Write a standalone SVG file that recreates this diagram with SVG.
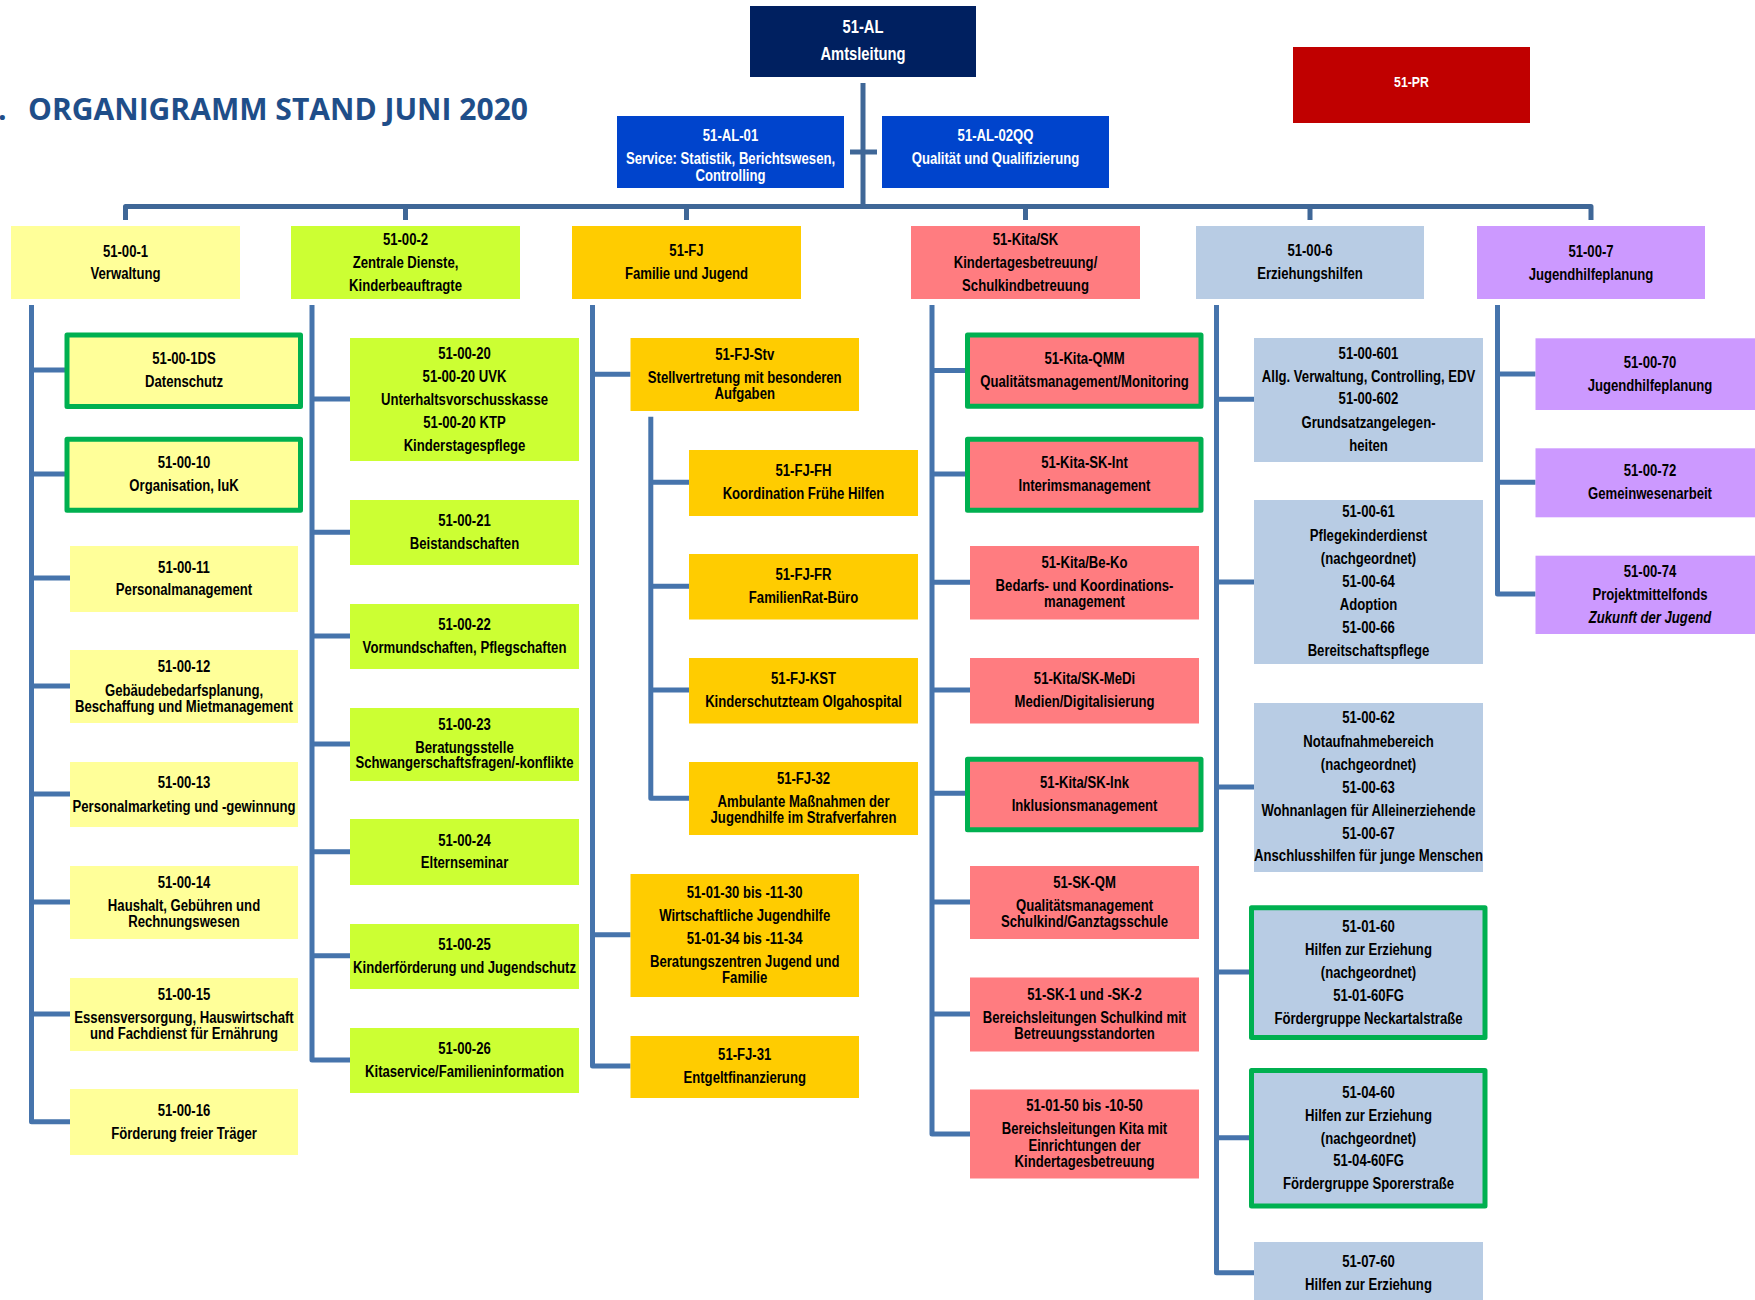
<svg xmlns="http://www.w3.org/2000/svg" width="1755" height="1300" viewBox="0 0 1755 1300">
<style>
  text { font-family: "Liberation Sans", Arial, sans-serif; font-weight: bold; font-size: 16px; text-anchor: middle; fill: #000; }
  .w text, text.w { fill: #fff; }
  .yl { fill: #FFFF99; }
  .lg { fill: #CCFF33; }
  .or { fill: #FFCC00; }
  .rd { fill: #FF7C80; }
  .bl { fill: #B8CCE4; }
  .vi { fill: #CC99FF; }
  .grn { stroke: #00B050; stroke-width: 5; stroke-linejoin: round; }
  .conn path { fill: none; stroke: #4674AC; stroke-width: 5; stroke-linejoin: round; }
  .conn path.bus { stroke: #3F6797; }
  .title { font-family: "Open Sans", "Liberation Sans", sans-serif; font-size: 30px; font-weight: bold; fill: #1F4E89; text-anchor: start; }
</style>
<rect x="0" y="0" width="1755" height="1300" fill="#fff"/>
<text class="title" x="-2" y="120">.</text>
<text class="title" x="28" y="120" textLength="500" lengthAdjust="spacingAndGlyphs">ORGANIGRAMM STAND JUNI 2020</text>

<g id="connectors" class="conn">
  <path class="bus" d="M863,83 V206.5"/>
  <path class="bus" d="M850,152 H877"/>
  <path class="bus" d="M125.5,220 V206.5 H1591 V220"/>
  <path class="bus" d="M405.5,206.5 V220 M686.5,206.5 V220 M1025.5,206.5 V220 M1310,206.5 V220"/>
  <!-- column 1 -->
  <path d="M31.5,305 V1121.7 H70 M31.5,370 H66 M31.5,474 H66 M31.5,578 H70 M31.5,686 H70 M31.5,794 H70 M31.5,902 H70 M31.5,1014 H70"/>
  <!-- column 2 -->
  <path d="M312,305 V1060 H350 M312,399 H350 M312,532.3 H350 M312,636 H350 M312,744 H350 M312,851.7 H350 M312,955.7 H350"/>
  <!-- column 3 -->
  <path d="M592.5,305 V1066 H630.5 M592.5,374.3 H630.5 M592.5,934.7 H630.5"/>
  <path d="M650.8,416.7 V798.3 H689 M650.8,482.3 H689 M650.8,586.3 H689 M650.8,690 H689"/>
  <!-- column 4 -->
  <path d="M932,305 V1134 H970 M932,370.5 H966 M932,474 H966 M932,582.3 H970 M932,690 H970 M932,793.3 H966 M932,902 H970 M932,1014 H970"/>
  <!-- column 5 -->
  <path d="M1216.5,305 V1272.7 H1254 M1216.5,399.3 H1254 M1216.5,582 H1254 M1216.5,787 H1254 M1216.5,972 H1250 M1216.5,1137.7 H1250"/>
  <!-- column 6 -->
  <path d="M1497.5,305 V594 H1535.5 M1497.5,374 H1535.5 M1497.5,482.3 H1535.5"/>
</g>

<!-- top -->
<g id="n-51-AL">
  <rect x="750" y="6" width="226" height="71" fill="#002060"/>
  <g class="w" transform="translate(863 0) scale(.82 1)"><text y="33.3" style="font-size:18px">51-AL</text><text y="60" style="font-size:18px">Amtsleitung</text></g>
</g>
<g id="n-51-AL-01">
  <rect x="617" y="116" width="227" height="72" fill="#0044CC"/>
  <g class="w" transform="translate(730.5 0) scale(.82 1)"><text y="140.7">51-AL-01</text><text y="164">Service: Statistik, Berichtswesen,</text><text y="180.7">Controlling</text></g>
</g>
<g id="n-51-AL-02QQ">
  <rect x="882" y="116" width="227" height="72" fill="#0044CC"/>
  <g class="w" transform="translate(995.5 0) scale(.82 1)"><text y="140.7">51-AL-02QQ</text><text y="164">Qualität und Qualifizierung</text></g>
</g>
<g id="n-51-PR">
  <rect x="1293" y="47" width="237" height="76" fill="#C00000"/>
  <g class="w" transform="translate(1411.5 0) scale(.82 1)"><text y="87.3" style="font-size:15px">51-PR</text></g>
</g>

<!-- level 2 -->
<g id="n-51-00-1"><rect class="yl" x="11" y="226" width="229" height="73"/>
  <g transform="translate(125.5 0) scale(.82 1)"><text y="256.7">51-00-1</text><text y="279.3">Verwaltung</text></g></g>
<g id="n-51-00-2"><rect class="lg" x="291" y="226" width="229" height="73"/>
  <g transform="translate(405.5 0) scale(.82 1)"><text y="245">51-00-2</text><text y="267.7">Zentrale Dienste,</text><text y="290.7">Kinderbeauftragte</text></g></g>
<g id="n-51-FJ"><rect class="or" x="572" y="226" width="229" height="73"/>
  <g transform="translate(686.5 0) scale(.82 1)"><text y="256">51-FJ</text><text y="278.7">Familie und Jugend</text></g></g>
<g id="n-51-Kita-SK"><rect class="rd" x="911" y="226" width="229" height="73"/>
  <g transform="translate(1025.5 0) scale(.82 1)"><text y="245">51-Kita/SK</text><text y="267.7">Kindertagesbetreuung/</text><text y="290.7">Schulkindbetreuung</text></g></g>
<g id="n-51-00-6"><rect class="bl" x="1196" y="226" width="228" height="73"/>
  <g transform="translate(1310 0) scale(.82 1)"><text y="256">51-00-6</text><text y="278.7">Erziehungshilfen</text></g></g>
<g id="n-51-00-7"><rect class="vi" x="1477" y="226" width="228" height="73"/>
  <g transform="translate(1591 0) scale(.82 1)"><text y="256.7">51-00-7</text><text y="280">Jugendhilfeplanung</text></g></g>

<!-- column 1 -->
<g id="n-51-00-1DS"><rect class="yl grn" x="67" y="335" width="233.5" height="71.5"/>
  <g transform="translate(184 0) scale(.82 1)"><text y="364.3">51-00-1DS</text><text y="387">Datenschutz</text></g></g>
<g id="n-51-00-10"><rect class="yl grn" x="67" y="439.2" width="233.5" height="71"/>
  <g transform="translate(184 0) scale(.82 1)"><text y="468.3">51-00-10</text><text y="491">Organisation, IuK</text></g></g>
<g id="n-51-00-11"><rect class="yl" x="70" y="546" width="228" height="66"/>
  <g transform="translate(184 0) scale(.82 1)"><text y="572.7">51-00-11</text><text y="595.3">Personalmanagement</text></g></g>
<g id="n-51-00-12"><rect class="yl" x="70" y="650" width="228" height="73"/>
  <g transform="translate(184 0) scale(.82 1)"><text y="672.3">51-00-12</text><text y="695.7">Gebäudebedarfsplanung,</text><text y="711.7">Beschaffung und Mietmanagement</text></g></g>
<g id="n-51-00-13"><rect class="yl" x="70" y="762" width="228" height="65"/>
  <g transform="translate(184 0) scale(.82 1)"><text y="788.3">51-00-13</text><text y="811.7">Personalmarketing und -gewinnung</text></g></g>
<g id="n-51-00-14"><rect class="yl" x="70" y="866" width="228" height="73"/>
  <g transform="translate(184 0) scale(.82 1)"><text y="888.3">51-00-14</text><text y="911">Haushalt, Gebühren und</text><text y="926.7">Rechnungswesen</text></g></g>
<g id="n-51-00-15"><rect class="yl" x="70" y="978" width="228" height="73"/>
  <g transform="translate(184 0) scale(.82 1)"><text y="1000">51-00-15</text><text y="1023.3">Essensversorgung, Hauswirtschaft</text><text y="1039">und Fachdienst für Ernährung</text></g></g>
<g id="n-51-00-16"><rect class="yl" x="70" y="1089" width="228" height="66"/>
  <g transform="translate(184 0) scale(.82 1)"><text y="1116">51-00-16</text><text y="1138.7">Förderung freier Träger</text></g></g>

<!-- column 2 -->
<g id="n-51-00-20"><rect class="lg" x="350" y="338" width="229" height="123"/>
  <g transform="translate(464.5 0) scale(.82 1)"><text y="359">51-00-20</text><text y="382">51-00-20 UVK</text><text y="404.7">Unterhaltsvorschusskasse</text><text y="427.7">51-00-20 KTP</text><text y="450.7">Kinderstagespflege</text></g></g>
<g id="n-51-00-21"><rect class="lg" x="350" y="500" width="229" height="65"/>
  <g transform="translate(464.5 0) scale(.82 1)"><text y="526">51-00-21</text><text y="549.3">Beistandschaften</text></g></g>
<g id="n-51-00-22"><rect class="lg" x="350" y="604" width="229" height="65"/>
  <g transform="translate(464.5 0) scale(.82 1)"><text y="630">51-00-22</text><text y="652.7">Vormundschaften, Pflegschaften</text></g></g>
<g id="n-51-00-23"><rect class="lg" x="350" y="708" width="229" height="73"/>
  <g transform="translate(464.5 0) scale(.82 1)"><text y="730">51-00-23</text><text y="752.7">Beratungsstelle</text><text y="768.3">Schwangerschaftsfragen/-konflikte</text></g></g>
<g id="n-51-00-24"><rect class="lg" x="350" y="819" width="229" height="66"/>
  <g transform="translate(464.5 0) scale(.82 1)"><text y="845.7">51-00-24</text><text y="868.3">Elternseminar</text></g></g>
<g id="n-51-00-25"><rect class="lg" x="350" y="924" width="229" height="65"/>
  <g transform="translate(464.5 0) scale(.82 1)"><text y="949.7">51-00-25</text><text y="972.7">Kinderförderung und Jugendschutz</text></g></g>
<g id="n-51-00-26"><rect class="lg" x="350" y="1028" width="229" height="65"/>
  <g transform="translate(464.5 0) scale(.82 1)"><text y="1054">51-00-26</text><text y="1076.7">Kitaservice/Familieninformation</text></g></g>

<!-- column 3 -->
<g id="n-51-FJ-Stv"><rect class="or" x="630.5" y="338" width="228.5" height="73"/>
  <g transform="translate(744.7 0) scale(.82 1)"><text y="360">51-FJ-Stv</text><text y="383.3">Stellvertretung mit besonderen</text><text y="399">Aufgaben</text></g></g>
<g id="n-51-FJ-FH"><rect class="or" x="689" y="450" width="229" height="66"/>
  <g transform="translate(803.5 0) scale(.82 1)"><text y="476">51-FJ-FH</text><text y="499">Koordination Frühe Hilfen</text></g></g>
<g id="n-51-FJ-FR"><rect class="or" x="689" y="554" width="229" height="65.5"/>
  <g transform="translate(803.5 0) scale(.82 1)"><text y="580">51-FJ-FR</text><text y="603">FamilienRat-Büro</text></g></g>
<g id="n-51-FJ-KST"><rect class="or" x="689" y="658" width="229" height="65.5"/>
  <g transform="translate(803.5 0) scale(.82 1)"><text y="684">51-FJ-KST</text><text y="707">Kinderschutzteam Olgahospital</text></g></g>
<g id="n-51-FJ-32"><rect class="or" x="689" y="762" width="229" height="73"/>
  <g transform="translate(803.5 0) scale(.82 1)"><text y="784">51-FJ-32</text><text y="806.7">Ambulante Maßnahmen der</text><text y="822.7">Jugendhilfe im Strafverfahren</text></g></g>
<g id="n-51-01-30"><rect class="or" x="630.5" y="874" width="228.5" height="123"/>
  <g transform="translate(744.7 0) scale(.82 1)"><text y="898">51-01-30 bis -11-30</text><text y="921">Wirtschaftliche Jugendhilfe</text><text y="944">51-01-34 bis -11-34</text><text y="967">Beratungszentren Jugend und</text><text y="982.7">Familie</text></g></g>
<g id="n-51-FJ-31"><rect class="or" x="630.5" y="1036" width="228.5" height="62"/>
  <g transform="translate(744.7 0) scale(.82 1)"><text y="1060">51-FJ-31</text><text y="1083">Entgeltfinanzierung</text></g></g>

<!-- column 4 -->
<g id="n-51-Kita-QMM"><rect class="rd grn" x="967.5" y="335" width="233.5" height="71.3"/>
  <g transform="translate(1084.5 0) scale(.82 1)"><text y="364.3">51-Kita-QMM</text><text y="387.3">Qualitätsmanagement/Monitoring</text></g></g>
<g id="n-51-Kita-SK-Int"><rect class="rd grn" x="967.5" y="439.2" width="233.5" height="71"/>
  <g transform="translate(1084.5 0) scale(.82 1)"><text y="468.3">51-Kita-SK-Int</text><text y="491">Interimsmanagement</text></g></g>
<g id="n-51-Kita-Be-Ko"><rect class="rd" x="970" y="546" width="229" height="73.5"/>
  <g transform="translate(1084.5 0) scale(.82 1)"><text y="568.3">51-Kita/Be-Ko</text><text y="591">Bedarfs- und Koordinations-</text><text y="607">management</text></g></g>
<g id="n-51-Kita-SK-MeDi"><rect class="rd" x="970" y="658" width="229" height="65.5"/>
  <g transform="translate(1084.5 0) scale(.82 1)"><text y="684">51-Kita/SK-MeDi</text><text y="707.3">Medien/Digitalisierung</text></g></g>
<g id="n-51-Kita-SK-Ink"><rect class="rd grn" x="967.5" y="759.2" width="233.5" height="70.6"/>
  <g transform="translate(1084.5 0) scale(.82 1)"><text y="788.3">51-Kita/SK-Ink</text><text y="810.7">Inklusionsmanagement</text></g></g>
<g id="n-51-SK-QM"><rect class="rd" x="970" y="866" width="229" height="73"/>
  <g transform="translate(1084.5 0) scale(.82 1)"><text y="887.7">51-SK-QM</text><text y="911">Qualitätsmanagement</text><text y="926.7">Schulkind/Ganztagsschule</text></g></g>
<g id="n-51-SK-1"><rect class="rd" x="970" y="977.5" width="229" height="74"/>
  <g transform="translate(1084.5 0) scale(.82 1)"><text y="1000">51-SK-1 und -SK-2</text><text y="1023.3">Bereichsleitungen Schulkind mit</text><text y="1039">Betreuungsstandorten</text></g></g>
<g id="n-51-01-50"><rect class="rd" x="970" y="1089.5" width="229" height="89"/>
  <g transform="translate(1084.5 0) scale(.82 1)"><text y="1110.7">51-01-50 bis -10-50</text><text y="1134">Bereichsleitungen Kita mit</text><text y="1150.7">Einrichtungen der</text><text y="1166.7">Kindertagesbetreuung</text></g></g>

<!-- column 5 -->
<g id="n-51-00-601"><rect class="bl" x="1254" y="338" width="229" height="124"/>
  <g transform="translate(1368.5 0) scale(.82 1)"><text y="358.7">51-00-601</text><text y="382">Allg. Verwaltung, Controlling, EDV</text><text y="404.3">51-00-602</text><text y="427.7">Grundsatzangelegen-</text><text y="450.7">heiten</text></g></g>
<g id="n-51-00-61"><rect class="bl" x="1254" y="500" width="229" height="164"/>
  <g transform="translate(1368.5 0) scale(.82 1)"><text y="517.3">51-00-61</text><text y="540.7">Pflegekinderdienst</text><text y="564">(nachgeordnet)</text><text y="586.7">51-00-64</text><text y="609.7">Adoption</text><text y="632.7">51-00-66</text><text y="655.7">Bereitschaftspflege</text></g></g>
<g id="n-51-00-62"><rect class="bl" x="1254" y="703" width="229" height="169"/>
  <g transform="translate(1368.5 0) scale(.82 1)"><text y="723.3">51-00-62</text><text y="746.7">Notaufnahmebereich</text><text y="769.7">(nachgeordnet)</text><text y="792.7">51-00-63</text><text y="815.7">Wohnanlagen für Alleinerziehende</text><text y="838.7">51-00-67</text><text y="861">Anschlusshilfen für junge Menschen</text></g></g>
<g id="n-51-01-60"><rect class="bl grn" x="1251.5" y="907.8" width="233.5" height="129.7"/>
  <g transform="translate(1368.5 0) scale(.82 1)"><text y="931.7">51-01-60</text><text y="954.7">Hilfen zur Erziehung</text><text y="977.7">(nachgeordnet)</text><text y="1000.7">51-01-60FG</text><text y="1023.7">Fördergruppe Neckartalstraße</text></g></g>
<g id="n-51-04-60"><rect class="bl grn" x="1251.5" y="1070.5" width="233.5" height="135.5"/>
  <g transform="translate(1368.5 0) scale(.82 1)"><text y="1097.7">51-04-60</text><text y="1120.7">Hilfen zur Erziehung</text><text y="1143.7">(nachgeordnet)</text><text y="1165.7">51-04-60FG</text><text y="1189.3">Fördergruppe Sporerstraße</text></g></g>
<g id="n-51-07-60"><rect class="bl" x="1254" y="1242" width="229" height="80"/>
  <g transform="translate(1368.5 0) scale(.82 1)"><text y="1266.7">51-07-60</text><text y="1290">Hilfen zur Erziehung</text></g></g>

<!-- column 6 -->
<g id="n-51-00-70"><rect class="vi" x="1535.5" y="338.3" width="229" height="71.7"/>
  <g transform="translate(1650 0) scale(.82 1)"><text y="367.7">51-00-70</text><text y="391">Jugendhilfeplanung</text></g></g>
<g id="n-51-00-72"><rect class="vi" x="1535.5" y="448.3" width="229" height="69"/>
  <g transform="translate(1650 0) scale(.82 1)"><text y="475.7">51-00-72</text><text y="498.7">Gemeinwesenarbeit</text></g></g>
<g id="n-51-00-74"><rect class="vi" x="1535.5" y="555.7" width="229" height="78.3"/>
  <g transform="translate(1650 0) scale(.82 1)"><text y="577">51-00-74</text><text y="600">Projektmittelfonds</text><text y="622.7" style="font-style:italic">Zukunft der Jugend</text></g></g>
</svg>
